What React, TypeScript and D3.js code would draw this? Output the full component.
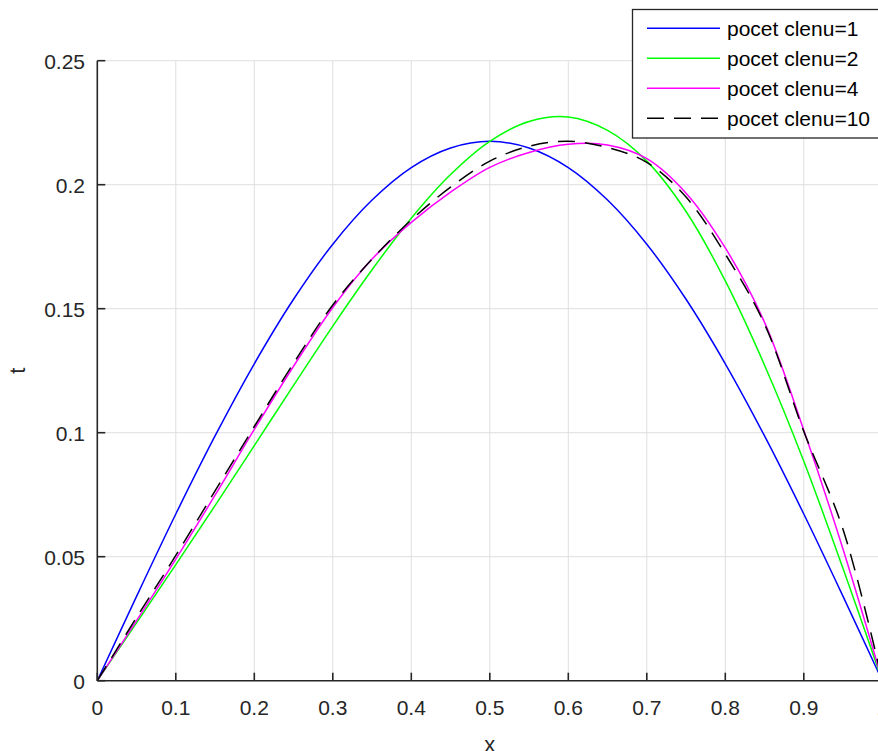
import React from 'react'
import * as d3 from 'd3'

const xs = [0, 0.05, 0.1, 0.15, 0.2, 0.25, 0.3, 0.35, 0.4, 0.45, 0.5,
  0.55, 0.6, 0.65, 0.7, 0.75, 0.8, 0.85, 0.9, 0.95, 1]

const terms1 = [0, 0.034, 0.0672, 0.0987, 0.1278, 0.1538, 0.176, 0.1938, 0.2069, 0.2148, 0.2175,
  0.2148, 0.2069, 0.1938, 0.176, 0.1538, 0.1278, 0.0987, 0.0672, 0.034, 0]
const terms2 = [0, 0.0233, 0.0468, 0.0706, 0.0948, 0.1191, 0.143, 0.1657, 0.1865, 0.2041, 0.2175,
  0.2255, 0.2273, 0.2219, 0.2095, 0.1892, 0.1612, 0.1272, 0.0885, 0.0452, 0]
const terms4 = [0, 0.0242, 0.049, 0.0748, 0.1013, 0.1268, 0.1505, 0.17, 0.1848, 0.197, 0.207,
  0.213, 0.2163, 0.216, 0.2105, 0.1966, 0.1745, 0.1445, 0.101, 0.053, 0]
const terms10 = [0, 0.0255, 0.0505, 0.0765, 0.1025, 0.128, 0.1515, 0.17, 0.1858, 0.199, 0.2095,
  0.2155, 0.2175, 0.215, 0.209, 0.195, 0.172, 0.1438, 0.1005, 0.061, 0]

const series = [
  { name: 'pocet clenu=1', values: terms1, color: '#0000ff', dash: null },
  { name: 'pocet clenu=2', values: terms2, color: '#00ff00', dash: null },
  { name: 'pocet clenu=4', values: terms4, color: '#ff00ff', dash: null },
  { name: 'pocet clenu=10', values: terms10, color: '#000000', dash: '17 10' },
]

const xTicks = [0, 0.1, 0.2, 0.3, 0.4, 0.5, 0.6, 0.7, 0.8, 0.9, 1]
const yTicks = [0, 0.05, 0.1, 0.15, 0.2, 0.25]

const W = 878
const H = 751
const axisColor = '#262626'
const font = '"Liberation Sans", Arial, sans-serif'

export default function App() {
  const x = d3.scaleLinear().domain([0, 1]).range([97.3, 882.3])
  const y = d3.scaleLinear().domain([0, 0.25]).range([680.7, 60.7])

  const line = d3.line<number>()
    .x((d, i) => x(xs[i]))
    .y((d) => y(d))
    .curve(d3.curveCatmullRom)

  const legendY = [28.3, 58.3, 88.3, 118.3]

  return (
    <svg width={W} height={H} style={{ position: 'absolute', left: 0, top: 0, background: '#fff' }}>
      {/* grid */}
      {xTicks.filter((t) => t > 0).map((t) => (
        <line key={'gx' + t} x1={x(t)} x2={x(t)} y1={y(0)} y2={y(0.25)} stroke="#dfdfdf" strokeWidth={1} />
      ))}
      {yTicks.filter((t) => t > 0).map((t) => (
        <line key={'gy' + t} x1={x(0)} x2={x(1)} y1={y(t)} y2={y(t)} stroke="#dfdfdf" strokeWidth={1} />
      ))}

      {/* curves */}
      {series.map((s) => (
        <path key={s.name} d={line(s.values) || ''} fill="none" stroke={s.color}
          strokeWidth={1.5} strokeDasharray={s.dash || undefined} />
      ))}

      {/* axes */}
      <line x1={x(0)} x2={x(0)} y1={y(0)} y2={y(0.25)} stroke={axisColor} strokeWidth={1.6} />
      <line x1={x(0)} x2={x(1)} y1={y(0)} y2={y(0)} stroke={axisColor} strokeWidth={1.6} />
      {xTicks.map((t) => (
        <g key={'tx' + t}>
          <line x1={x(t)} x2={x(t)} y1={y(0)} y2={y(0) - 8} stroke={axisColor} strokeWidth={1.6} />
          <text x={x(t)} y={715} textAnchor="middle" fontFamily={font} fontSize={21} fill={axisColor}>
            {String(t)}
          </text>
        </g>
      ))}
      {yTicks.map((t) => (
        <g key={'ty' + t}>
          <line x1={x(0)} x2={x(0) + 8} y1={y(t)} y2={y(t)} stroke={axisColor} strokeWidth={1.6} />
          <text x={85} y={y(t) + 8} textAnchor="end" fontFamily={font} fontSize={21} fill={axisColor}>
            {String(t)}
          </text>
        </g>
      ))}

      <text x={x(0.5)} y={752} textAnchor="middle" fontFamily={font} fontSize={22} fill={axisColor}>x</text>
      <text transform={`translate(25, ${y(0.125)}) rotate(-90)`} textAnchor="middle"
        fontFamily={font} fontSize={22} fill={axisColor}>t</text>

      {/* legend */}
      <rect x={632.5} y={9.5} width={250} height={128.5} fill="#fff" stroke={axisColor} strokeWidth={1.3} />
      {series.map((s, i) => (
        <g key={'lg' + s.name}>
          <line x1={647} x2={720} y1={legendY[i]} y2={legendY[i]} stroke={s.color} strokeWidth={1.5}
            strokeDasharray={s.dash || undefined} />
          <text x={727} y={legendY[i] + 8} fontFamily={font} fontSize={21} fill="#000">{s.name}</text>
        </g>
      ))}
    </svg>
  )
}
